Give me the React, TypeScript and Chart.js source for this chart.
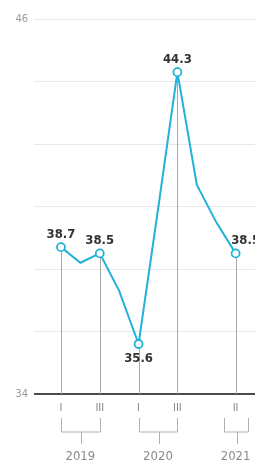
import React, { useEffect, useRef } from "react";
import { Chart, registerables } from "chart.js";

Chart.register(...registerables);

const quarters = ["I", "II", "III", "IV", "I", "II", "III", "IV", "I", "II"];
const values = [38.7, 38.2, 38.5, 37.3, 35.6, 39.9, 44.3, 40.7, 39.5, 38.5];
const labeledIdx = [0, 2, 4, 6, 9];
const labelBelowIdx = [4];
const years = [
  { label: "2019", from: 0, to: 2 },
  { label: "2020", from: 4, to: 6 },
  { label: "2021", from: 9, to: 9 },
];
const yTickLabels = [34, 46];

const LINE = "#22b2d8";

export default function App() {
  const ref = useRef<HTMLCanvasElement | null>(null);

  useEffect(() => {
    document.body.style.margin = "0";
    const canvas = ref.current!;
    const overlay = {
      id: "overlay",
      beforeDatasetsDraw(chart: any) {
        const ctx = chart.ctx;
        const xs = chart.scales.x;
        const ys = chart.scales.y;
        const base = ys.getPixelForValue(34);
        ctx.save();
        ctx.strokeStyle = "#a8a8a8";
        ctx.lineWidth = 1;
        labeledIdx.forEach((i) => {
          const x = Math.round(xs.getPixelForValue(i)) + 0.5;
          ctx.beginPath();
          ctx.moveTo(x, ys.getPixelForValue(values[i]));
          ctx.lineTo(x, base);
          ctx.stroke();
        });
        ctx.restore();
      },
      afterDatasetsDraw(chart: any) {
        const ctx = chart.ctx;
        const xs = chart.scales.x;
        const ys = chart.scales.y;
        const base = ys.getPixelForValue(34);
        ctx.save();
        // value labels
        ctx.font = "bold 13px 'DejaVu Sans Condensed'";
        ctx.fillStyle = "#333";
        ctx.textAlign = "center";
        ctx.textBaseline = "middle";
        labeledIdx.forEach((i) => {
          const x = xs.getPixelForValue(i) + (i === values.length - 1 ? 10 : 0);
          const y = ys.getPixelForValue(values[i]);
          const below = labelBelowIdx.includes(i);
          ctx.fillText(values[i].toFixed(1), x, below ? y + 15 : y - 13);
        });
        // quarter labels
        ctx.font = "11px 'DejaVu Sans Condensed'";
        ctx.fillStyle = "#8a8a8a";
        labeledIdx.forEach((i) => {
          ctx.fillText(quarters[i], xs.getPixelForValue(i), base + 14);
        });
        // brackets
        ctx.strokeStyle = "#b0b0b0";
        ctx.lineWidth = 1;
        const top = base + 24;
        const bot = base + 38;
        const stem = base + 50;
        years.forEach((yr) => {
          let x1 = xs.getPixelForValue(yr.from);
          let x2 = xs.getPixelForValue(yr.to);
          if (yr.from === yr.to) {
            x1 -= 12;
            x2 += 12;
          }
          x1 = Math.round(x1) + 0.5;
          x2 = Math.round(x2) + 0.5;
          const cx = Math.round((x1 + x2) / 2) + 0.5;
          ctx.beginPath();
          ctx.moveTo(x1, top);
          ctx.lineTo(x1, bot);
          ctx.lineTo(x2, bot);
          ctx.lineTo(x2, top);
          ctx.moveTo(cx, bot);
          ctx.lineTo(cx, stem);
          ctx.stroke();
        });
        ctx.font = "13px 'DejaVu Sans Condensed'";
        ctx.fillStyle = "#8a8a8a";
        years.forEach((yr) => {
          const cx = (xs.getPixelForValue(yr.from) + xs.getPixelForValue(yr.to)) / 2;
          ctx.fillText(yr.label, cx, base + 63);
        });
        ctx.restore();
      },
    };

    const chart = new Chart(canvas, {
      type: "line",
      data: {
        datasets: [
          {
            data: values.map((v, i) => ({ x: i, y: v })),
            borderColor: LINE,
            borderWidth: 2,
            tension: 0,
            pointRadius: values.map((_, i) => (labeledIdx.includes(i) ? 4 : 0)),
            pointBackgroundColor: "#fff",
            pointBorderColor: LINE,
            pointBorderWidth: 1.8,
            clip: false,
          },
        ],
      },
      options: {
        animation: false,
        responsive: false,
        events: [],
        layout: { autoPadding: false, padding: { top: 19, bottom: 70, left: 0, right: 0 } },
        plugins: { legend: { display: false }, tooltip: { enabled: false } },
        scales: {
          x: {
            type: "linear",
            min: -1.39,
            max: 10,
            display: false,
          },
          y: {
            min: 34,
            max: 46,
            afterFit: (s: any) => {
              s.width = 34;
            },
            border: { display: false },
            grid: {
              drawTicks: false,
              color: (c: any) => (c.tick && c.tick.value === 34 ? "#4a4a4a" : "#e8e8e8"),
              lineWidth: (c: any) => (c.tick && c.tick.value === 34 ? 2 : 1),
            },
            ticks: {
              stepSize: 2,
              padding: 6,
              color: "#9a9a9a",
              font: { family: "'DejaVu Sans Condensed'", size: 11 },
              callback: (v: any) => (yTickLabels.includes(Number(v)) ? String(v) : ""),
            },
          },
        },
      },
      plugins: [overlay],
    });
    return () => chart.destroy();
  }, []);

  return <canvas ref={ref} width={255} height={464} style={{ display: "block" }} />;
}
